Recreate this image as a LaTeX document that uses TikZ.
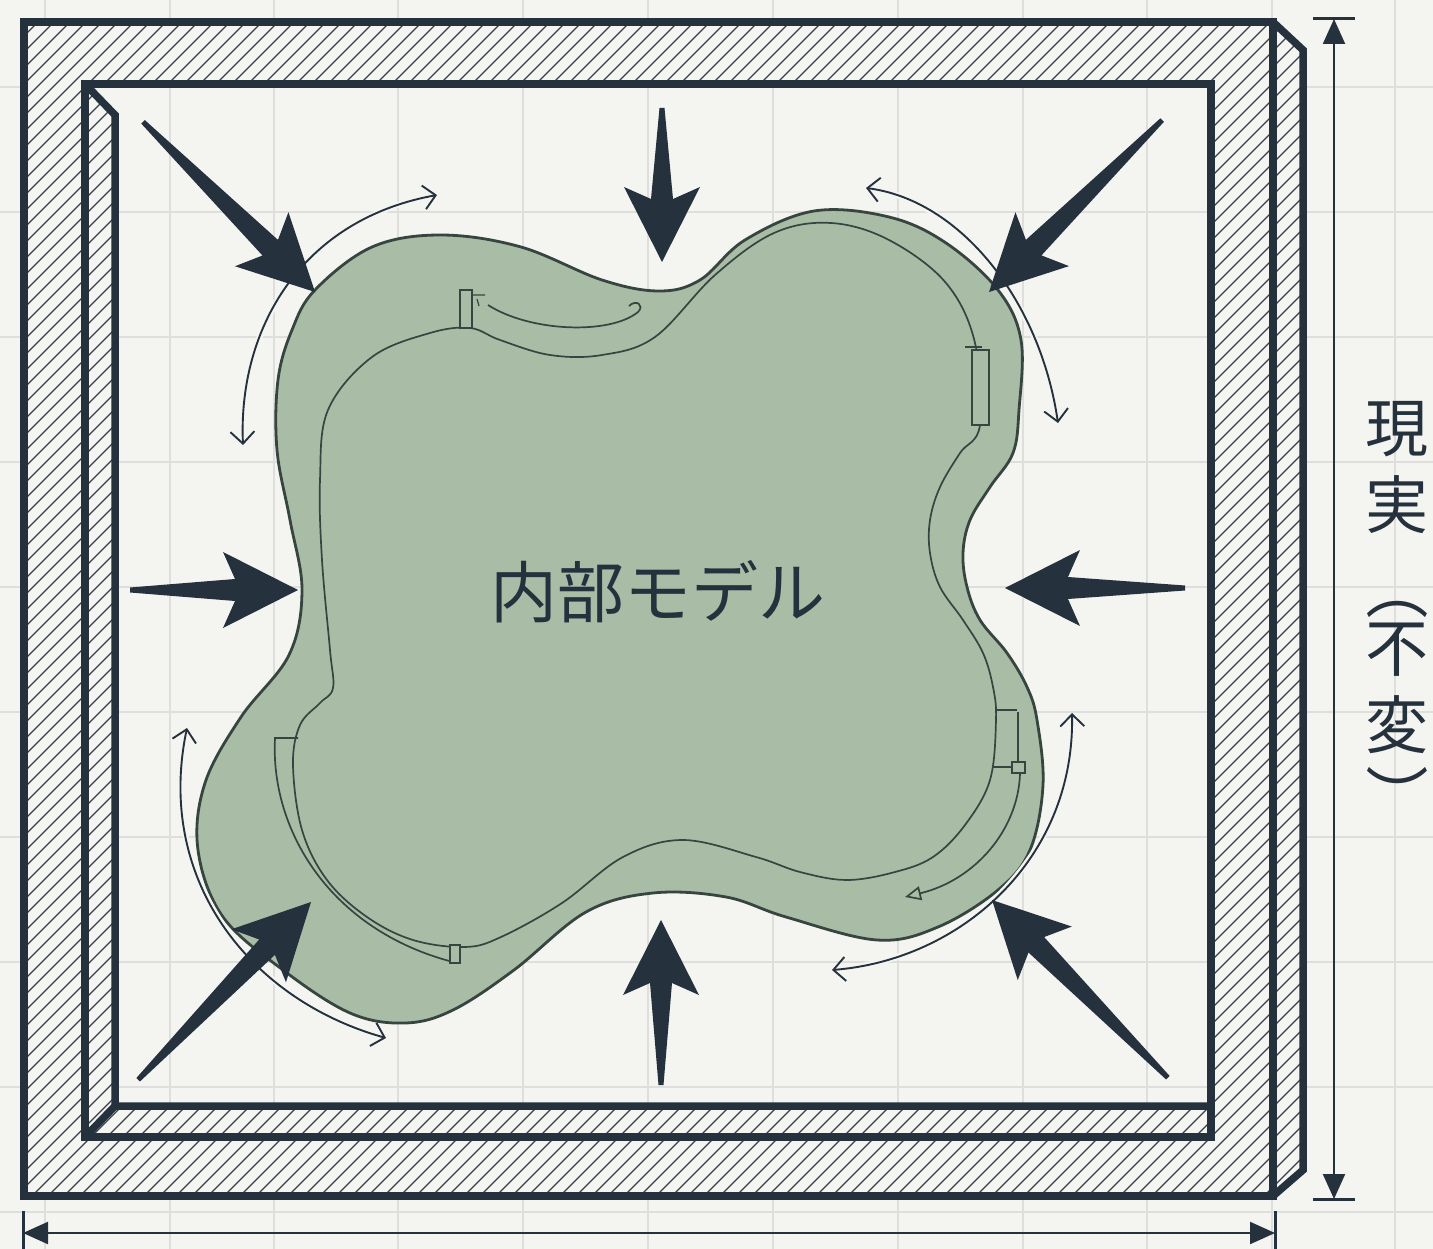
\documentclass[tikz,border=0pt]{standalone}
\usepackage{fontspec}
\newfontfamily\jpfont{Noto Sans CJK JP}
\usetikzlibrary{arrows.meta}
\definecolor{paper}{HTML}{F4F4F1}
\definecolor{gridc}{HTML}{DEDEDC}
\definecolor{ink}{HTML}{25313D}
\definecolor{hatchc}{HTML}{34404A}
\definecolor{blobfill}{HTML}{A8BCA6}
\definecolor{blobline}{HTML}{36453F}
% heavy pressure arrow: #1 tip, #2 direction (deg), #3 length
\newcommand{\forcearrow}[3]{%
  \fill[ink, shift={(#1)}, rotate=#2] (0,0) -- (-75,38) -- (-63,11) -- (-#3,2.5)
     -- (-#3,-2.5) -- (-63,-11) -- (-75,-38) -- cycle;}
\begin{document}
\begin{tikzpicture}[x=1pt,y=-1pt,
  gridln/.style={draw=gridc, line width=1.8pt},
  wall/.style={draw=ink, line width=7.5pt, line join=miter},
  hatchln/.style={draw=hatchc, line width=1.3pt},
  blobedge/.style={draw=blobline, line width=2.8pt},
  innerln/.style={draw=blobline, line width=1.7pt},
  swing/.style={draw=ink, line width=1.9pt,
    {Straight Barb[length=12pt,width=24pt]}-{Straight Barb[length=12pt,width=24pt]}},
  halo/.style={draw=paper, line width=6pt},
  dimln/.style={draw=ink, fill=ink, line width=2.2pt,
    {Triangle[length=25pt,width=22pt]}-{Triangle[length=25pt,width=22pt]}},
  dimtick/.style={draw=ink, line width=3pt},
  vchar/.style={font=\jpfont\fontsize{63}{74}\selectfont, text=ink, inner sep=0pt}]

\useasboundingbox (0,0) rectangle (1433,1249);
\fill[paper] (0,0) rectangle (1433,1249);

% background grid
\foreach \gx in {45,170,274,398,523,648,773,898,1023,1147,1272,1395}
  \draw[gridln] (\gx,0) -- (\gx,1249);
\foreach \gy in {87,212,...,1212}
  \draw[gridln] (0,\gy) -- (1433,\gy);

% hatched wall
\begin{scope}[even odd rule]
  \clip (24,22) -- (1273,22) -- (1303,50) -- (1303,1170) -- (1273,1196) -- (24,1196) -- cycle
        (85,84) -- (1211,84) -- (1211,1106) -- (115,1106) -- (115,115) -- cycle;
  \fill[paper] (0,0) rectangle (1433,1249);
  \foreach \k in {-80,...,85}
    \draw[hatchln] ({\k*16},1260) -- ({\k*16+1290},-30);
\end{scope}

% wall outlines
\draw[wall] (24,22) -- (1273,22) -- (1273,1196) -- (24,1196) -- cycle;
\draw[wall] (1273,22) -- (1303,50) -- (1303,1170) -- (1273,1196);
\draw[wall] (85,84) -- (1211,84) -- (1211,1137) -- (85,1137) -- cycle;
\draw[wall] (85,84) -- (115,115) -- (115,1106) -- (1211,1106);
\draw[wall] (85,1137) -- (115,1106);

% internal model
\path[fill=blobfill, blobedge] plot[smooth cycle, tension=0.6] coordinates {
  (315,290) (372,247) (441,235) (521,247) (602,280) (659,291) (700,280) (745,240)
  (814,211) (889,217) (946,243) (998,290) (1021,340) (1019,410) (1013,453) (990,487)
  (970,520) (963,553) (967,587) (980,620) (1007,653) (1027,687) (1037,720) (1043,785)
  (1030,850) (998,890) (938,927)
  (877,940) (786,917) (726,897) (653,893) (586,912) (514,970) (453,1010) (405,1023)
  (350,1013) (283,970) (223,917) (198,850) (205,783) (241,717) (289,655) (302,590)
  (290,520) (277,450) (278,380) (292,330)};

\path[innerln] plot[smooth cycle, tension=0.6] coordinates {
  (465,947) (413,940) (367,917) (327,880) (302,830) (293,765) (300,725) (320,703)
  (333,688) (330,650) (322,560) (320,480) (328,410) (372,357) (430,333) (470,328)
  (500,340) (550,355) (602,355) (655,337) (715,275) (774,233) (831,223) (889,240)
  (946,283) (975,343) (980,425) (960,453) (940,487) (930,520) (930,553) (940,587)
  (963,620) (983,653) (993,687) (996,720) (990,780) (965,825) (933,857) (895,872)
  (847,880) (800,872) (756,857) (683,840) (623,857) (562,903) (501,937)};

% band on the lower left
\path[innerln] (298,738) -- (275,738) .. controls (270,830) and (330,930) .. (453,962);
\path[innerln, fill=blobfill] (450,945) rectangle (460,963);

% marks on the upper left
\path[innerln, fill=blobfill] (460,290) rectangle (472,328);
\path[innerln, line width=1.2pt] (473,295) -- (485,295) (477,299) -- (479,306);
\path[innerln] (488,305) .. controls (530,332) and (610,335) .. (638,312)
  .. controls (645,305) and (636,299) .. (629,306);

% marks on the upper right
\path[innerln] (965,347) -- (982,347);
\path[innerln, fill=blobfill] (972,350) rectangle (989,425);

% marks and return arrow on the lower right
\path[innerln] (997,710) -- (1017,710);
\path[innerln] (1018,712) -- (1018,763);
\path[innerln] (993,767) -- (1012,767);
\path[innerln, fill=blobfill] (1012,762) rectangle (1025,773);
\path[innerln, -{Triangle[open, length=16pt, width=14pt]}]
  (1020,774) .. controls (1018,830) and (975,880) .. (905,897);

% thin two-way arcs
\path[halo] (243,445) .. controls (238,330) and (300,220) .. (437,195);
\path[swing] (243,445) .. controls (238,330) and (300,220) .. (437,195);
\path[halo] (866,188) .. controls (960,200) and (1040,300) .. (1058,423);
\path[swing] (866,188) .. controls (960,200) and (1040,300) .. (1058,423);
\path[halo] (1072,713) .. controls (1075,860) and (960,960) .. (832,970);
\path[swing] (1072,713) .. controls (1075,860) and (960,960) .. (832,970);
\path[halo] (187,728) .. controls (155,880) and (250,1000) .. (386,1038);
\path[swing] (187,728) .. controls (155,880) and (250,1000) .. (386,1038);

% pressure arrows
\coordinate (tipTL) at (315,292);
\coordinate (tipT)  at (662,262);
\coordinate (tipTR) at (989,292);
\coordinate (tipL)  at (298,590);
\coordinate (tipR)  at (1005,588);
\coordinate (tipBL) at (311,902);
\coordinate (tipB)  at (661,920);
\coordinate (tipBR) at (992,900);
\forcearrow{tipTL}{-44.7}{242}
\forcearrow{tipT}{-90}{154}
\forcearrow{tipTR}{-135.2}{244}
\forcearrow{tipL}{0}{168}
\forcearrow{tipR}{180}{180}
\forcearrow{tipBL}{45.8}{248}
\forcearrow{tipB}{90}{165}
\forcearrow{tipBR}{134.7}{250}

\node[font=\jpfont\fontsize{67}{80}\selectfont, text=ink] (model) at (658,592) {内部モデル};

% dimension lines
\coordinate (dimTop) at (1334,19);
\coordinate (dimBot) at (1334,1199);
\path[dimtick] (1313,19) -- (1355,19);
\path[dimtick] (1313,1199) -- (1355,1199);
\path[dimln] (dimTop) -- (dimBot);
\coordinate (dimLeft) at (23,1233);
\coordinate (dimRight) at (1275,1233);
\path[dimtick] (23,1211) -- (23,1249);
\path[dimtick] (1275,1211) -- (1275,1249);
\path[dimln] (dimLeft) -- (dimRight);

% vertical label, one character per cell
\node[vchar] (r1) at (1397,429) {現};
\node[vchar] (r2) at (1397,505) {実};
\node[vchar, rotate=-90] (r3) at (1397,589) {（};
\node[vchar] (r4) at (1397,650) {不};
\node[vchar] (r5) at (1397,725) {変};
\node[vchar, rotate=-90] (r6) at (1397,796) {）};
\end{tikzpicture}
\end{document}
